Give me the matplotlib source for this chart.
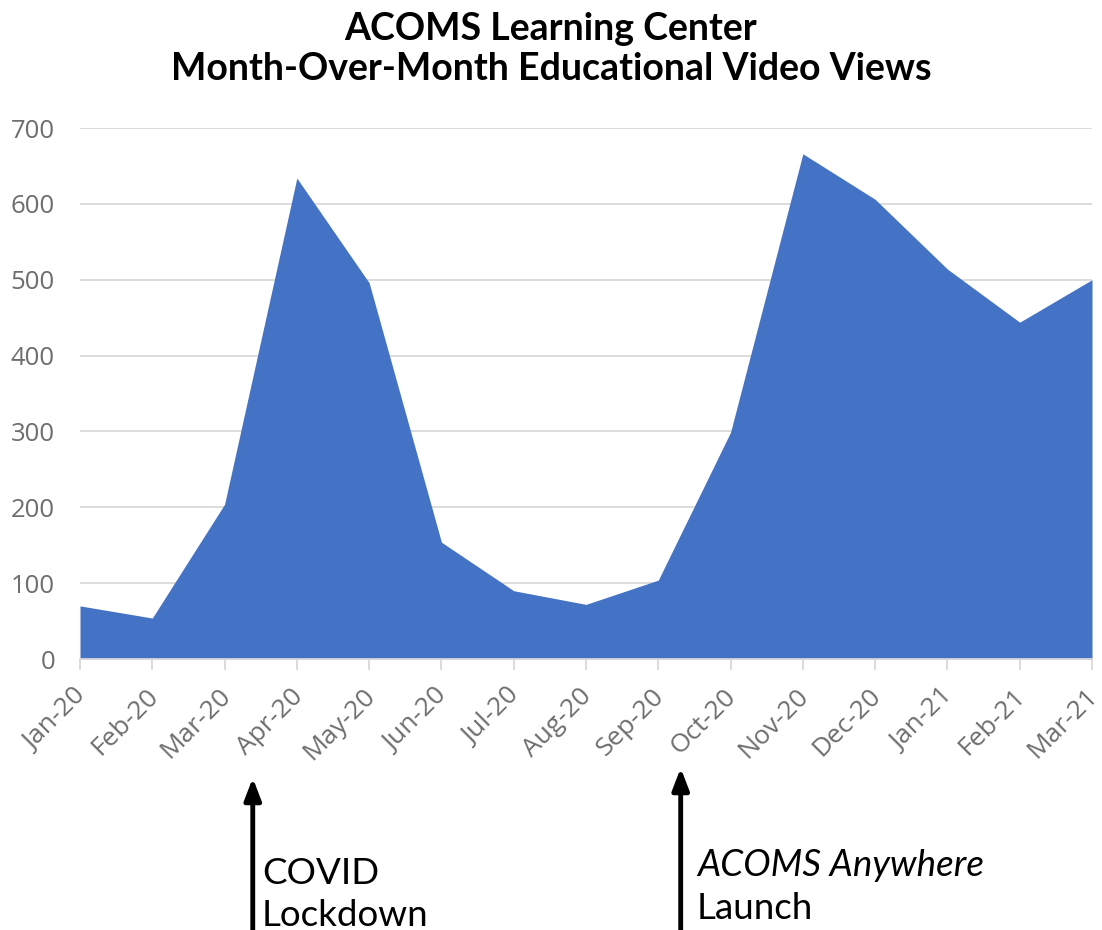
import numpy as np
import matplotlib.pyplot as plt
import matplotlib.transforms as mtransforms

months = ["Jan-20", "Feb-20", "Mar-20", "Apr-20", "May-20", "Jun-20", "Jul-20",
          "Aug-20", "Sep-20", "Oct-20", "Nov-20", "Dec-20", "Jan-21", "Feb-21", "Mar-21"]
views = [70, 54, 204, 634, 496, 154, 90, 72, 104, 299, 666, 606, 514, 444, 500]

# where the two events sit between the month ticks
covid_x = 2.39
launch_x = 8.31

plt.rcParams['font.family'] = ['Lato', 'DejaVu Sans']

fig = plt.figure(figsize=(11.02, 9.3), dpi=100)
ax = fig.add_axes([80/1102, 1 - 659/930, 1012/1102, 531/930])

x = np.arange(len(months))
ax.fill_between(x, views, 0, color="#4472C4", linewidth=0, zorder=2)

ax.set_xlim(0, len(months) - 1)
ax.set_ylim(0, 700)
ax.set_yticks(range(0, 701, 100))
ax.yaxis.grid(True, color="#D9D9D9", linewidth=1.3, zorder=0)
ax.set_axisbelow(True)

for s in ["top", "right", "left"]:
    ax.spines[s].set_visible(False)
ax.spines["bottom"].set_color("#D9D9D9")
ax.spines["bottom"].set_linewidth(1.3)
ax.spines["bottom"].set_zorder(3)

ax.set_xticks(x)
ax.set_xticklabels(months, rotation=45, ha="right", va="center",
                   rotation_mode="anchor")
ax.tick_params(axis="x", length=8, width=1.3, color="#D9D9D9", pad=9,
               labelsize=19, labelcolor="#6E6E6E", labelfontfamily="Open Sans")
ax.tick_params(axis="y", length=0, pad=18, labelsize=18.5, labelcolor="#6E6E6E",
               labelfontfamily="Open Sans")
shift = mtransforms.ScaledTranslation(0.02, -0.10, fig.dpi_scale_trans)
for lab in ax.get_xticklabels():
    lab.set_transform(lab.get_transform() + shift)

fig.text(0.5, 1 - 12/930, "ACOMS Learning Center\nMonth-Over-Month Educational Video Views",
         ha="center", va="top", fontsize=27, fontweight="bold", linespacing=1.2)

trans = mtransforms.blended_transform_factory(ax.transData, fig.transFigure)
arrow = dict(arrowstyle="-|>,head_length=1.3,head_width=0.5", color="black",
             lw=3.5, shrinkA=0, shrinkB=0)
ax.annotate("", xy=(covid_x, 1 - 778/930), xytext=(covid_x, 0),
            xycoords=trans, textcoords=trans, arrowprops=arrow, annotation_clip=False)
ax.annotate("", xy=(launch_x, 1 - 768/930), xytext=(launch_x, 0),
            xycoords=trans, textcoords=trans, arrowprops=arrow, annotation_clip=False)

fig.text(262/1102, 1 - 884/930, "COVID", fontsize=26.5, va="baseline")
fig.text(262/1102, 1 - 926/930, "Lockdown", fontsize=26.5, va="baseline")
fig.text(697/1102, 1 - 876/930, "ACOMS Anywhere", fontsize=26.5, style="italic", va="baseline")
fig.text(697/1102, 1 - 919/930, "Launch", fontsize=26.5, va="baseline")

fig.savefig("out.png", dpi=100)
